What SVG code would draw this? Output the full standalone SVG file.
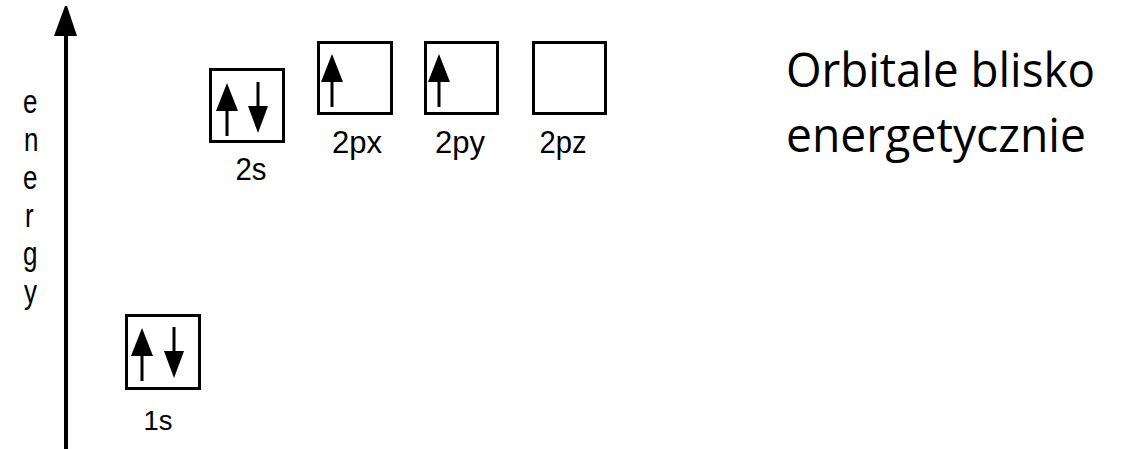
<svg xmlns="http://www.w3.org/2000/svg" width="1124" height="449" viewBox="0 0 1124 449">
<style>
  .box { fill: #fff; stroke: #000; stroke-width: 3; }
  .lbl { font-family: "Liberation Sans", Arial, sans-serif; fill: #000; text-anchor: middle; }
  .axl { font-family: "Liberation Sans", Arial, sans-serif; fill: #000; font-size: 26px; }
  .big { font-family: "Open Sans", "Noto Sans", sans-serif; fill: #000; font-size: 48px; }
</style>
<defs>
  <g id="up">
    <polygon points="0,0 11,28 -11,28" fill="#000"/>
    <rect x="-1.5" y="27" width="3" height="26" fill="#000"/>
  </g>
  <g id="down">
    <polygon points="0,0 10,-27 -10,-27" fill="#000"/>
    <rect x="-1.5" y="-51" width="3" height="25" fill="#000"/>
  </g>
</defs>
<rect width="1124" height="449" fill="#fff"/>

<g id="axis">
  <line x1="66" y1="34" x2="66" y2="449" stroke="#000" stroke-width="4"/>
  <polygon points="65,6 67,6 77,36 54,36" fill="#000"/>
  <text class="axl" transform="scale(1,1.28)">
    <tspan x="23" y="88.28">e</tspan>
    <tspan x="24" y="117.97">n</tspan>
    <tspan x="23" y="147.66">e</tspan>
    <tspan x="25" y="177.34">r</tspan>
    <tspan x="23" y="207.03">g</tspan>
    <tspan x="24" y="236.72">y</tspan>
  </text>
</g>

<g id="orbital-1s">
  <rect class="box" x="126.5" y="315.5" width="73" height="73"/>
  <use href="#up" x="142" y="328"/>
  <use href="#down" x="174" y="378"/>
  <text class="lbl" transform="translate(158,430) scale(1,1.05)" font-size="26" textLength="29" lengthAdjust="spacingAndGlyphs">1s</text>
</g>

<g id="orbital-2s">
  <rect class="box" x="210.5" y="69.5" width="73" height="72"/>
  <use href="#up" x="227" y="83"/>
  <use href="#down" x="258" y="133"/>
  <text class="lbl" transform="translate(251,180) scale(1,1.24)" font-size="26" textLength="31" lengthAdjust="spacingAndGlyphs">2s</text>
</g>

<g id="orbital-2px">
  <rect class="box" x="318.5" y="42.5" width="73" height="71"/>
  <use href="#up" x="332" y="54"/>
  <text class="lbl" transform="translate(357,153) scale(1,1.24)" font-size="26" textLength="50" lengthAdjust="spacingAndGlyphs">2px</text>
</g>

<g id="orbital-2py">
  <rect class="box" x="425.5" y="42.5" width="72" height="71"/>
  <use href="#up" x="439" y="54"/>
  <text class="lbl" transform="translate(460,153) scale(1,1.24)" font-size="26" textLength="50" lengthAdjust="spacingAndGlyphs">2py</text>
</g>

<g id="orbital-2pz">
  <rect class="box" x="533.5" y="42.5" width="72" height="71"/>
  <text class="lbl" transform="translate(563,153) scale(1,1.24)" font-size="26" textLength="47" lengthAdjust="spacingAndGlyphs">2pz</text>
</g>

<g id="note">
  <text class="big" x="786" y="87" textLength="309" lengthAdjust="spacingAndGlyphs">Orbitale blisko</text>
  <text class="big" x="786" y="152" textLength="300" lengthAdjust="spacingAndGlyphs">energetycznie</text>
</g>

<g id="connectors"></g>
</svg>
